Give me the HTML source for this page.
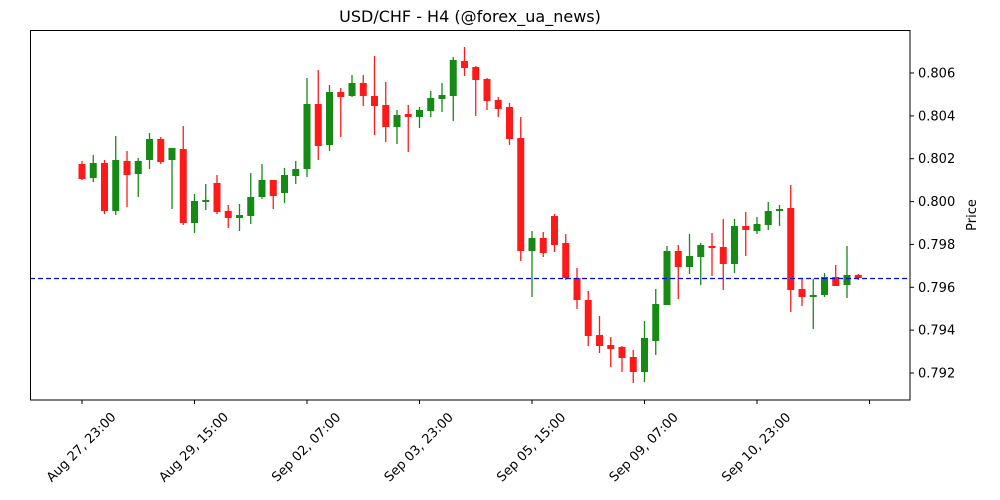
<!DOCTYPE html>
<html><head><meta charset="utf-8"><style>
html,body{margin:0;padding:0;background:#fff;}
svg{display:block;font-family:"DejaVu Sans","Liberation Sans",sans-serif;}
</style></head><body>
<svg id="s" width="1000" height="500" viewBox="0 0 1000 500" xmlns="http://www.w3.org/2000/svg">
<rect x="0" y="0" width="1000" height="500" fill="#fff"/>
<text x="470" y="22" font-size="16" text-anchor="middle" fill="#000">USD/CHF - H4 (@forex_ua_news)</text>
<g id="c"></g>
<line x1="30" y1="278.5" x2="910" y2="278.5" stroke="#0000ff" stroke-width="1.2" stroke-dasharray="5,3"/>
<rect x="30.5" y="30.5" width="879.5" height="369.5" fill="none" stroke="#000" stroke-width="1"/>
<g font-size="13" fill="#000">
<line x1="910" y1="373" x2="914" y2="373" stroke="#000"/><text x="918" y="377.5">0.792</text>
<line x1="910" y1="330.1" x2="914" y2="330.1" stroke="#000"/><text x="918" y="334.6">0.794</text>
<line x1="910" y1="287.3" x2="914" y2="287.3" stroke="#000"/><text x="918" y="291.8">0.796</text>
<line x1="910" y1="244.4" x2="914" y2="244.4" stroke="#000"/><text x="918" y="248.9">0.798</text>
<line x1="910" y1="201.6" x2="914" y2="201.6" stroke="#000"/><text x="918" y="206.1">0.800</text>
<line x1="910" y1="158.7" x2="914" y2="158.7" stroke="#000"/><text x="918" y="163.2">0.802</text>
<line x1="910" y1="115.9" x2="914" y2="115.9" stroke="#000"/><text x="918" y="120.4">0.804</text>
<line x1="910" y1="73" x2="914" y2="73" stroke="#000"/><text x="918" y="77.5">0.806</text>
<text transform="translate(976,215) rotate(-90)" text-anchor="middle">Price</text>
</g>
<g id="xt" font-size="13" fill="#000"></g>
</svg>
<script>
var d=[
[164,179,161,180,0],[163,178,155,182,1],[163,211,160,214,0],[160,211,136,215,1],[161,175,151,207,0],
[161,174,158,197,1],[139,160,133,169,1],[139,162,137,164,0],[148,160,148,209,1],[149,223,126,225,0],
[201,223,194,233,1],[200,202,184,210,1],[183,212,175,214,0],[211,218,205,228,0],[215,218,204,231,1],
[197,216,173,224,1],[180,197,164,199,1],[180,196,180,209,0],[175,193,168,203,1],[169,176,161,184,1],
[104,169,78,177,1],[104,146,70,160,0],[92,145,85,151,1],[92,97,88,137,0],[83,96,75,97,1],
[83,96,75,106,0],[96,106,56,135,0],[105,127,82,142,0],[115,127,110,144,1],[114,117,105,152,0],
[110,117,107,128,1],[98,111,91,117,1],[95,99,83,112,1],[60,96,57,121,1],[61,68,47,76,0],
[67,80,66,116,0],[79,101,78,110,0],[100,109,97,117,0],[107,139,103,145,0],[138,251,117,261,0],
[238,251,231,297,1],[238,253,232,257,0],[216,245,214,252,0],[243,278,234,280,0],[278,300,268,309,0],
[300,336,291,346,0],[335,346,316,353,0],[345,349,337,367,0],[347,358,346,372,0],[357,372,350,383,0],
[338,372,321,382,1],[304,341,289,355,1],[251,305,246,305,1],[251,267,245,299,0],[256,267,234,274,1],
[245,257,243,285,1],[246,248,233,276,0],[247,264,219,290,0],[226,264,219,273,1],[226,230,212,256,0],
[224,231,217,234,1],[211,225,202,230,1],[209,211,205,226,1],[208,290,185,312,0],[289,297,278,306,0],
[295,297,279,329,1],[277,295,273,297,1],[277,286,265,286,0],[275,285,246,298,1],[275,278,274,280,0]];
var g=document.getElementById("c"),h="";
d.forEach(function(c,i){var x=82+11.25*i,col=c[4]?"#158a15":"#ff1a1a";
h+='<line x1="'+x+'" y1="'+c[2]+'" x2="'+x+'" y2="'+c[3]+'" stroke="'+col+'" stroke-width="1.3"/>';
var bh=Math.max(c[1]-c[0],1.5);
h+='<rect x="'+(x-3.5)+'" y="'+c[0]+'" width="7" height="'+bh+'" fill="'+col+'"/>';});
g.innerHTML=h;
var L=["Aug 27, 23:00","Aug 29, 15:00","Sep 02, 07:00","Sep 03, 23:00","Sep 05, 15:00","Sep 09, 07:00","Sep 10, 23:00"];
var t="";
for(var k=0;k<8;k++){var x=82+112.5*k;
t+='<line x1="'+x+'" y1="400" x2="'+x+'" y2="404" stroke="#000"/>';
if(L[k])t+='<text transform="translate('+(x-1)+',447) rotate(-45)" text-anchor="middle" dy="4.5">'+L[k]+'</text>';}
document.getElementById("xt").innerHTML=t;
</script>
</body></html>
